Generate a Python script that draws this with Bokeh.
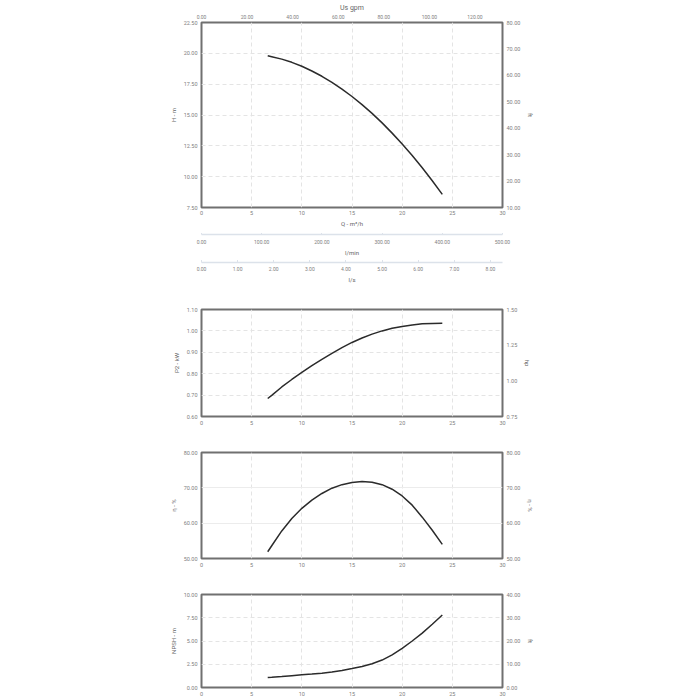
from bokeh.plotting import figure
from bokeh.models import Range1d, LinearAxis, FixedTicker, PrintfTickFormatter
from bokeh.layouts import column
from bokeh.embed import file_html
from bokeh.resources import INLINE

# ---- data ----
flow_m3h = [6.6, 7, 8, 9, 10, 11, 12, 13, 14, 15, 16, 17, 18, 19, 20, 21, 22, 23, 24]
head_m = [19.81, 19.73, 19.53, 19.27, 18.95, 18.57, 18.14, 17.65, 17.10, 16.50,
          15.84, 15.13, 14.36, 13.53, 12.65, 11.71, 10.72, 9.67, 8.56]
power_kw = [0.684, 0.699, 0.738, 0.773, 0.806, 0.838, 0.867, 0.895, 0.922, 0.946,
            0.967, 0.985, 1.000, 1.012, 1.021, 1.028, 1.033, 1.035, 1.036]
eff_pct = [51.9, 53.6, 57.8, 61.3, 64.2, 66.5, 68.4, 69.9, 70.9, 71.5,
           71.8, 71.6, 70.9, 69.6, 67.7, 65.1, 61.7, 58.0, 54.0]
npsh_m = [1.07, 1.10, 1.18, 1.27, 1.36, 1.44, 1.54, 1.66, 1.83, 2.04,
          2.26, 2.55, 2.95, 3.5, 4.2, 5.0, 5.85, 6.8, 7.79]

q_ticks = [0, 5, 10, 15, 20, 25, 30]
gpm_ticks = [0, 20, 40, 60, 80, 100, 120]
lmin_ticks = [0, 100, 200, 300, 400, 500]
ls_ticks = [0, 1, 2, 3, 4, 5, 6, 7, 8]
h_ticks = [7.5, 10, 12.5, 15, 17.5, 20, 22.5]
h_ft_ticks = [10, 20, 30, 40, 50, 60, 70, 80]
p_ticks = [0.6, 0.7, 0.8, 0.9, 1.0, 1.1]
p_hp_ticks = [0.75, 1.0, 1.25, 1.5]
eta_ticks = [50, 60, 70, 80]
npsh_ticks = [0, 2.5, 5, 7.5, 10]
npsh_ft_ticks = [0, 10, 20, 30, 40]

FONT = "Roboto"
TICK_C = "#808080"
TITLE_C = "#666666"
TICK_FS = "5.5px"
TITLE_FS = "6px"
FW = 301
ML, MR = 201, 45


def style_axis(ax, ticks, fmt, label=None, line=False, standoff=4, title_standoff=4):
    ax.ticker = FixedTicker(ticks=ticks)
    ax.formatter = PrintfTickFormatter(format=fmt)
    ax.major_label_text_font = FONT
    ax.major_label_text_font_size = TICK_FS
    ax.major_label_text_color = TICK_C
    ax.major_label_standoff = standoff
    ax.minor_tick_line_color = None
    if not line:
        ax.axis_line_color = None
        ax.major_tick_line_color = None
        ax.major_tick_out = 0
        ax.major_tick_in = 0
    if label is not None:
        ax.axis_label = label
        ax.axis_label_text_font = FONT
        ax.axis_label_text_font_size = TITLE_FS
        ax.axis_label_text_font_style = "normal"
        ax.axis_label_text_color = TITLE_C
        ax.axis_label_standoff = title_standoff


def base_fig(frame_h, top, bottom, yr):
    p = figure(frame_width=FW, frame_height=frame_h,
               x_range=Range1d(0, 30), y_range=Range1d(*yr),
               output_backend="svg", toolbar_location=None,
               min_border_left=ML, min_border_right=MR,
               min_border_top=top, min_border_bottom=bottom,
               outline_line_color="#707070", outline_line_width=2,
               border_fill_color="white", background_fill_color="white")
    p.xgrid.grid_line_color = "#e4e4e4"
    p.ygrid.grid_line_color = "#e4e4e4"
    p.xgrid.grid_line_dash = "4 3"
    p.ygrid.grid_line_dash = "4 3"
    return p


def add_right(p, name, rng, ticks, label):
    p.extra_y_ranges = {name: Range1d(*rng)}
    ax = LinearAxis(y_range_name=name)
    style_axis(ax, ticks, "%.2f", label)
    p.add_layout(ax, "right")


def curve(p, y):
    p.line(flow_m3h, y, line_color="#2b2b2b", line_width=1.5)


# ---- Head chart ----
p1 = base_fig(185, 20, 26, (7.5, 22.5))
style_axis(p1.xaxis[0], q_ticks, "%d", "Q - m³/h", standoff=3, title_standoff=2)
style_axis(p1.yaxis[0], h_ticks, "%.2f", "H - m")
add_right(p1, "ft", (10, 80), h_ft_ticks, "ft")
p1.extra_x_ranges = {"gpm": Range1d(0, 132.086)}
top_ax = LinearAxis(x_range_name="gpm")
style_axis(top_ax, gpm_ticks, "%.2f", "Us gpm", standoff=4, title_standoff=0)
top_ax.major_label_text_font_size = "5px"
top_ax.axis_label_text_font_size = "7px"
p1.add_layout(top_ax, "above")
curve(p1, head_m)


def scale_fig(top, bottom, rng, ticks, fmt, label, standoff, title_standoff):
    p = figure(frame_width=FW, frame_height=1,
               x_range=Range1d(*rng), y_range=Range1d(0, 1),
               y_axis_location=None,
               output_backend="svg", toolbar_location=None,
               min_border_left=ML, min_border_right=MR,
               min_border_top=top, min_border_bottom=bottom,
               outline_line_color=None)
    p.grid.visible = False
    ax = p.xaxis[0]
    style_axis(ax, ticks, fmt, label, line=True, standoff=standoff,
               title_standoff=title_standoff)
    ax.axis_line_color = "#dce2ea"
    ax.axis_line_width = 1.5
    ax.major_tick_line_color = "#dce2ea"
    ax.major_tick_in = 4
    ax.major_tick_out = 0
    ax.major_label_text_font_size = "5px"
    return p


p_lmin = scale_fig(0, 26, (0, 500), lmin_ticks, "%.2f", "l/min", 5, 2)
p_ls = scale_fig(1, 29, (0, 500 / 60), ls_ticks, "%.2f", "l/s", 4, 2)

# ---- Power chart ----
p2 = base_fig(107, 18, 18, (0.6, 1.1))
style_axis(p2.xaxis[0], q_ticks, "%d")
style_axis(p2.yaxis[0], p_ticks, "%.2f", "P2 - kW")
add_right(p2, "hp", (0.75, 1.5), p_hp_ticks, "hp")
curve(p2, power_kw)

# ---- Efficiency chart ----
p3 = base_fig(106, 18, 18, (50, 80))
style_axis(p3.xaxis[0], q_ticks, "%d")
style_axis(p3.yaxis[0], eta_ticks, "%.2f", "η - %")
add_right(p3, "eta", (50, 80), eta_ticks, "η - %")
p3.ygrid.grid_line_dash = "solid"
p3.ygrid.grid_line_color = "#ececec"
curve(p3, eff_pct)

# ---- NPSH chart ----
p4 = base_fig(93, 18, 11, (0, 10))
style_axis(p4.xaxis[0], q_ticks, "%d")
style_axis(p4.yaxis[0], npsh_ticks, "%.2f", "NPSH - m")
add_right(p4, "nft", (0, 40), npsh_ft_ticks, "ft")
curve(p4, npsh_m)

layout = column(p1, p_lmin, p_ls, p2, p3, p4, spacing=0)
open("out.html", "w").write(file_html(layout, INLINE))
